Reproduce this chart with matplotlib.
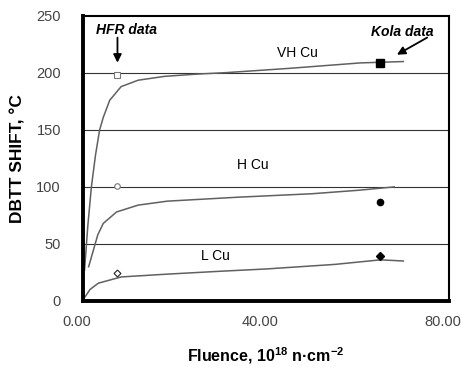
import numpy as np
import matplotlib.pyplot as plt
import matplotlib.transforms as mtransforms

plt.rcParams['font.family'] = ['Liberation Sans', 'DejaVu Sans']

# trend curves
vh_x = [0.3, 1.0, 1.8, 2.7, 3.6, 4.4, 5.8, 8.3, 12.0, 17.8, 25.0, 31.4, 45.0, 60.6, 70.0]
vh_y = [27, 65, 100, 128, 150, 161, 176, 188, 193.6, 197, 199, 200.3, 204, 208.8, 210]

h_x = [1.2, 2.2, 3.2, 4.4, 7.3, 12.0, 18.4, 34.0, 50.0, 60.0, 68.0]
h_y = [30, 44, 58, 68, 78, 84, 87.5, 91, 94, 97, 100]

l_x = [0.4, 1.5, 3.3, 8.3, 18.1, 30.0, 40.0, 55.0, 65.0, 70.0]
l_y = [3.5, 10, 15.5, 21, 23.4, 26, 28, 32, 36, 35]

# HFR data (open) and Kola data (filled)
hfr_x = 7.5
hfr_vh, hfr_h, hfr_l = 198, 100.6, 24.6
kola_x = 65
kola_vh, kola_h, kola_l = 209, 87, 39

fig = plt.figure(figsize=(4.62, 3.71), dpi=100)
ax = fig.add_axes([0.18, 0.189, 0.792, 0.768])

for yv in [50, 100, 150, 200]:
    ax.axhline(yv, color='#333333', lw=0.8, zorder=1)

ax.plot(vh_x, vh_y, color='#606060', lw=1.1, zorder=2)
ax.plot(h_x, h_y, color='#606060', lw=1.1, zorder=2)
ax.plot(l_x, l_y, color='#606060', lw=1.1, zorder=2)

ax.plot(hfr_x, hfr_vh, 's', ms=4, mfc='white', mec='#777777', mew=0.8, zorder=3)
ax.plot(hfr_x, hfr_h, 'o', ms=4, mfc='white', mec='#777777', mew=0.8, zorder=3)
ax.plot(hfr_x, hfr_l, 'D', ms=3.5, mfc='white', mec='#222222', mew=0.8, zorder=3)
ax.plot(kola_x, kola_vh, 's', ms=6, color='black', zorder=3)
ax.plot(kola_x, kola_h, 'o', ms=4.5, color='black', zorder=3)
ax.plot(kola_x, kola_l, 'D', ms=4, color='black', zorder=3)

ax.set_xlim(0, 80)
ax.set_ylim(0, 250)
ax.set_xticks([0, 40, 80])
ax.set_xticklabels(['0.00', '40.00', '80.00'])
ax.set_yticks([0, 50, 100, 150, 200, 250])
ax.tick_params(length=0, labelsize=10.5, colors='#444444', pad=16)
ax.tick_params(axis='x', pad=10)
shift = mtransforms.ScaledTranslation(-6 / 100, 0, fig.dpi_scale_trans)
for lab in ax.get_xticklabels():
    lab.set_transform(lab.get_transform() + shift)
ax.spines['left'].set_linewidth(2.8)
ax.spines['bottom'].set_linewidth(2.8)
ax.spines['top'].set_linewidth(1.5)
ax.spines['right'].set_linewidth(1.5)

ax.set_ylabel('DBTT SHIFT, °C', fontsize=12.5, fontweight='bold', labelpad=8)
ax.set_xlabel('Fluence, 10$^{\\mathregular{18}}$ n·cm$^{\\mathregular{-2}}$',
              fontsize=11.5, fontweight='bold', labelpad=12)

ax.text(46.8, 217.5, 'VH Cu', fontsize=10, ha='center', va='center')
ax.text(37, 119, 'H Cu', fontsize=10, ha='center', va='center')
ax.text(28.9, 39.5, 'L Cu', fontsize=10, ha='center', va='center')

ax.text(9.5, 237.7, 'HFR data', fontsize=10, fontweight='bold', style='italic',
        ha='center', va='center')
ax.annotate('', xy=(hfr_x, 209), xytext=(hfr_x, 231),
            arrowprops=dict(arrowstyle='-|>', color='black', lw=1.3,
                            shrinkA=0, shrinkB=0, mutation_scale=12))
ax.text(69.7, 236, 'Kola data', fontsize=10, fontweight='bold', style='italic',
        ha='center', va='center')
ax.annotate('', xy=(68.6, 216), xytext=(75.2, 231),
            arrowprops=dict(arrowstyle='-|>', color='black', lw=1.3,
                            shrinkA=0, shrinkB=0, mutation_scale=12))

fig.savefig('out.png', dpi=100)
